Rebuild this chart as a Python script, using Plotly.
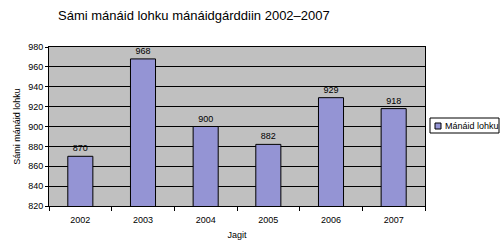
import plotly.graph_objects as go

years = ["2002", "2003", "2004", "2005", "2006", "2007"]
values = [870, 968, 900, 882, 929, 918]
yticks = [820, 840, 860, 880, 900, 920, 940, 960, 980]
series_name = "Mánáid lohku"
bar_color = "#9494d4"

L, R, T, B = 49, 425, 47, 206
W, H = 500, 240


def px(x):
    return (x - L) / (R - L)


def py(y):
    return (B - y) / (B - T)


fig = go.Figure()
fig.add_trace(go.Bar(
    x=years, y=values, name=series_name,
    marker=dict(color=bar_color, line=dict(color="black", width=1)),
    text=[str(v) for v in values], textposition="outside",
    textfont=dict(size=9, color="black", family="Arial"),
    cliponaxis=False, width=0.40, showlegend=False,
))
fig.update_layout(
    width=W, height=H,
    margin=dict(l=L, r=W - R, t=T, b=H - B, autoexpand=False),
    paper_bgcolor="white", plot_bgcolor="#c0c0c0",
    font=dict(family="Arial", size=9, color="black"),
    title=dict(text="Sámi mánáid lohku mánáidgárddiin 2002–2007",
               x=58 / W, xanchor="left", y=1 - 15 / H, yanchor="middle",
               font=dict(size=13, color="black")),
    showlegend=False,
)
# legend box (manual, compact like the original)
fig.add_shape(type="rect", xref="paper", yref="paper",
              x0=px(430), x1=px(499), y0=py(133), y1=py(118),
              line=dict(color="black", width=1), fillcolor="white", layer="above")
fig.add_shape(type="rect", xref="paper", yref="paper",
              x0=px(435), x1=px(441), y0=py(129), y1=py(123),
              line=dict(color="black", width=1), fillcolor=bar_color, layer="above")
fig.add_annotation(xref="paper", yref="paper", x=px(443), y=py(125.5),
                   xanchor="left", yanchor="middle", showarrow=False,
                   text=series_name, font=dict(size=9, color="black"))
fig.update_xaxes(title=dict(text="Jagit", standoff=7, font=dict(size=9)),
                 showline=True, linecolor="black", mirror=True,
                 ticks="outside", ticklen=4, tickcolor="black",
                 tickson="boundaries", ticklabelstandoff=5, automargin=False)
fig.update_yaxes(title=dict(text="Sámi mánáid lohku", standoff=6, font=dict(size=9)),
                 range=[820, 980], tickvals=yticks, showgrid=True,
                 gridcolor="black", gridwidth=1, showline=True, linecolor="black",
                 mirror=True, ticks="outside", ticklen=3, tickcolor="black",
                 zeroline=False, automargin=False)
fig.write_html("out.html")
